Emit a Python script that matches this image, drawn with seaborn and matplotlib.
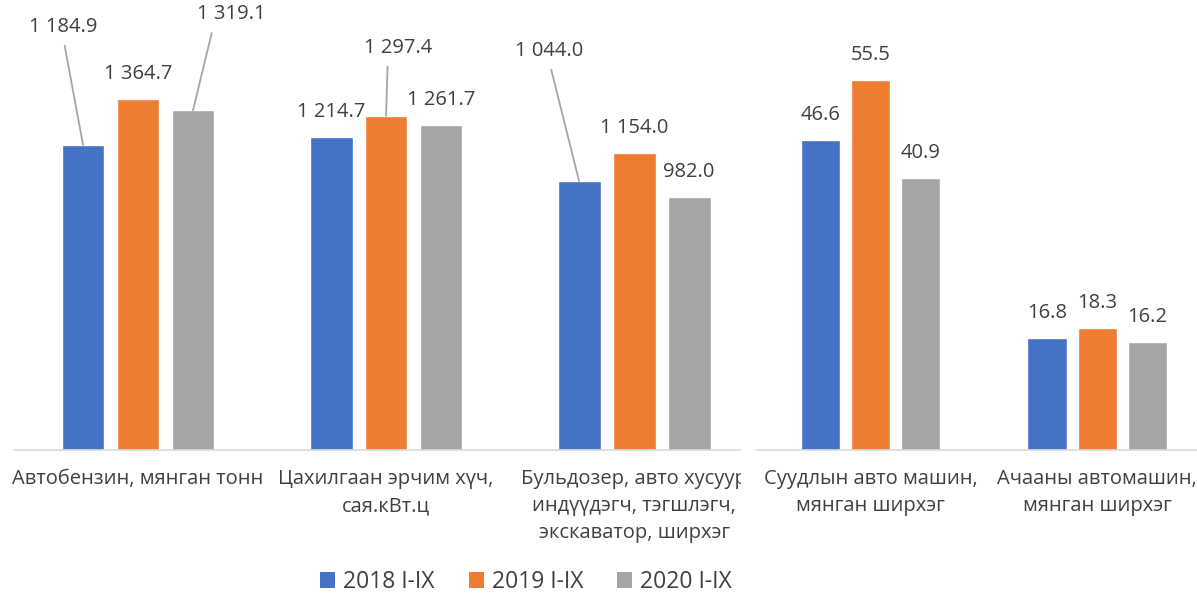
import pandas as pd
import matplotlib.pyplot as plt
import seaborn as sns
from matplotlib.patches import Patch, Rectangle

# data
years = ["2018 I-IX", "2019 I-IX", "2020 I-IX"]

left_categories = [
    "Автобензин, мянган тонн",
    "Цахилгаан эрчим хүч,\nсая.кВт.ц",
    "Бульдозер, авто хусуур\nиндүүдэгч, тэгшлэгч,\nэкскаватор, ширхэг",
]
left_2018 = [1184.9, 1214.7, 1044.0]
left_2019 = [1364.7, 1297.4, 1154.0]
left_2020 = [1319.1, 1261.7, 982.0]

right_categories = [
    "Суудлын авто машин,\nмянган ширхэг",
    "Ачааны автомашин,\nмянган ширхэг",
]
right_2018 = [46.6, 16.8]
right_2019 = [55.5, 18.3]
right_2020 = [40.9, 16.2]

colors = ["#4472C4", "#ED7D31", "#A5A5A5"]
text_color = "#404040"

sns.set_theme(style="white")
plt.rcParams["font.family"] = ["Open Sans", "DejaVu Sans"]

fig = plt.figure(figsize=(11.97, 5.97), dpi=100)
W, H = 1197, 597


def px_axes(x0, x1, y_top, y_base):
    return fig.add_axes([x0 / W, 1 - y_base / H, (x1 - x0) / W, (y_base - y_top) / H])


def long_table(categories, series):
    rows = []
    for year, vals in zip(years, series):
        for cat, v in zip(categories, vals):
            rows.append({"category": cat, "year": year, "value": v})
    return pd.DataFrame(rows)


def fmt(v):
    return f"{v:,.1f}".replace(",", " ")


def draw_panel(ax, categories, series, ymax, xlim, moved):
    df = long_table(categories, series)
    sns.barplot(data=df, x="category", y="value", hue="year", palette=colors,
                width=0.665, gap=0.22, errorbar=None, saturation=1,
                legend=False, ax=ax)
    ax.set_ylim(0, ymax)
    ax.set_xlim(*xlim)
    ax.set_xlabel("")
    ax.set_ylabel("")
    ax.set_yticks([])
    for s in ["left", "right", "top"]:
        ax.spines[s].set_visible(False)
    ax.spines["bottom"].set_color("#D9D9D9")
    ax.spines["bottom"].set_linewidth(1.2)
    ax.tick_params(axis="x", length=0, pad=14, labelsize=14.5, colors=text_color)
    for lab in ax.get_xticklabels():
        lab.set_linespacing(1.45)
    ax.patch.set_alpha(0)

    for hi, cont in enumerate(ax.containers):
        for ci, bar in enumerate(cont):
            x = bar.get_x() + bar.get_width() / 2
            h = bar.get_height()
            key = (hi, ci)
            if key in moved:
                dx, dy, rp = moved[key]
                ax.annotate(fmt(h), xy=(x, h), xytext=(dx, dy),
                            textcoords="offset pixels", ha="center", va="center",
                            fontsize=14.5, color=text_color, annotation_clip=False,
                            arrowprops=dict(arrowstyle="-", color="#A6A6A6", lw=1.3,
                                            shrinkA=4, shrinkB=0, relpos=rp))
            else:
                ax.annotate(fmt(h), xy=(x, h), xytext=(0, 25),
                            textcoords="offset pixels", ha="center", va="center",
                            fontsize=14.5, color=text_color, annotation_clip=False)


# label offsets (pixels) for labels that Excel moved away with leader lines
left_moved = {
    (0, 0): (-20, 118, (0.5, 0)),
    (2, 0): (38, 96, (0.25, 0)),
    (1, 1): (12, 68, (0.35, 0)),
    (0, 2): (-30, 130, (0.5, 0)),
}

ax_left = px_axes(14, 740, 10, 450)
draw_panel(ax_left, left_categories, [left_2018, left_2019, left_2020],
           440 / 0.2575, (-0.5, 2.427), left_moved)

ax_right = px_axes(757, 1197, 10, 450)
draw_panel(ax_right, right_categories, [right_2018, right_2019, right_2020],
           440 / 6.66, (-0.5, 1.44), {})

# the left chart is cut off where the right chart begins
fig.add_artist(Rectangle((741 / W, 1 - 530 / H), 16 / W, 75 / H,
                         transform=fig.transFigure, facecolor="white",
                         edgecolor="none", zorder=10))

handles = [Patch(facecolor=c, edgecolor="none") for c in colors]
fig.legend(handles, years, loc="center", bbox_to_anchor=(526 / W, 1 - 582 / H),
           ncol=3, frameon=False, fontsize=16.5, handlelength=0.65,
           handleheight=0.65, handletextpad=0.35, columnspacing=1.5,
           labelcolor=text_color, borderaxespad=0, borderpad=0)

fig.savefig("out.png", dpi=100)
